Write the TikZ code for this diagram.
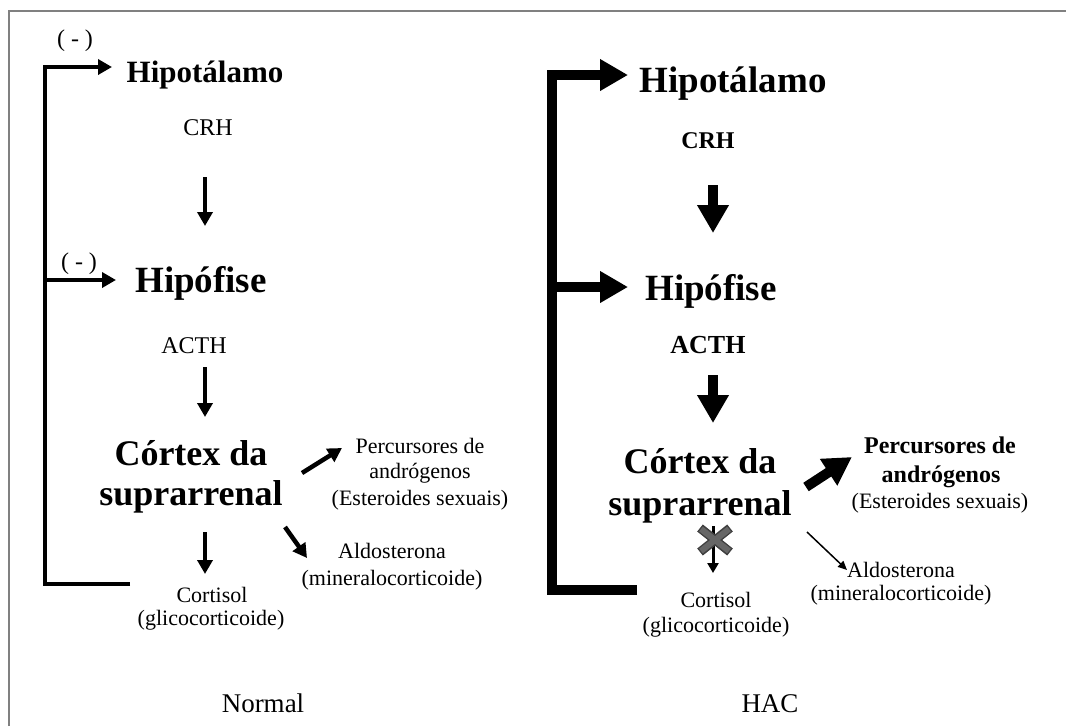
\documentclass[tikz,border=0pt]{standalone}
\usepackage{fontspec}
\setmainfont{Liberation Serif}
\usepackage{tikz}
\usetikzlibrary{arrows.meta, positioning}

\begin{document}
\begin{tikzpicture}[x=1pt, y=-1pt,
		orgao/.style={font=\bfseries\fontsize{#1}{#1}\selectfont, anchor=base, inner sep=0pt},
		texto/.style={font=\fontsize{#1}{#1}\selectfont, anchor=base, inner sep=0pt},
		seta/.style={line width=4.5pt, -{Triangle[length=14pt, width=15pt]}},
		setagrossa/.style={line width=10pt, -{Triangle[length=28pt, width=30pt]}},
		setafina/.style={line width=1.5pt, -{Triangle[length=9pt, width=8pt]}},
		setamini/.style={line width=3pt, -{Triangle[length=10pt, width=11pt]}}]
	\useasboundingbox (0,0) rectangle (1066,726);
	
	% Moldura
	\draw[gray, line width=2pt] (9,726) -- (9,11) -- (1066,11);
	
	% Normal
	\node[texto=24, anchor=center] (menosA) at (75,41) {( - )};
	\node[texto=24, anchor=center] (menosB) at (79,264) {( - )};
	\node[orgao=31] (hipotN) at (205,82) {Hipotálamo};
	\node[texto=24] (crhN) at (208,135) {CRH};
	\node[orgao=37] (hipofN) at (201,292) {Hipófise};
	\node[texto=24] (acthN) at (194,353) {ACTH};
	\node[orgao=36] (cortexN) at (191,465) {Córtex da};
	\node[orgao=36] (supraN) at (191,505) {suprarrenal};
	\node[texto=22] (percN) at (420,453) {Percursores de};
	\node[texto=22] (androN) at (420,478) {andrógenos};
	\node[texto=22] (esterN) at (420,505) {(Esteroides sexuais)};
	\node[texto=22] (aldoN) at (392,558) {Aldosterona};
	\node[texto=22] (mineN) at (392,585) {(mineralocorticoide)};
	\node[texto=22] (cortisN) at (212,602) {Cortisol};
	\node[texto=22] (glicoN) at (211,625) {(glicocorticoide)};
	\node[texto=27] (normal) at (263,712) {Normal};
	
	\coordinate (n1) at (205,177); \coordinate (n2) at (205,226);
	\coordinate (n3) at (205,367); \coordinate (n4) at (205,417);
	\coordinate (n5) at (302,473); \coordinate (n6) at (342,448);
	\coordinate (n7) at (285,527); \coordinate (n8) at (307,558);
	\coordinate (n9) at (205,532); \coordinate (n10) at (205,574);
	\coordinate (fbN) at (130,584); \coordinate (fbN1) at (112,67);
	\coordinate (ramoN) at (45,280); \coordinate (fbN2) at (116,280);
	
	\draw[seta] (n1) -- (n2);
	\draw[seta] (n3) -- (n4);
	\draw[seta] (n5) -- (n6);
	\draw[seta] (n7) -- (n8);
	\draw[seta] (n9) -- (n10);
	\draw[seta, line join=miter] (fbN) -- (45,584) -- (45,67) -- (fbN1);
	\draw[seta] (ramoN) -- (fbN2);
	
	% HAC
	\node[orgao=37] (hipotH) at (733,92) {Hipotálamo};
	\node[orgao=24] (crhH) at (708,148) {CRH};
	\node[orgao=37] (hipofH) at (711,300) {Hipófise};
	\node[orgao=26] (acthH) at (708,353) {ACTH};
	\node[orgao=36] (cortexH) at (700,473) {Córtex da};
	\node[orgao=36] (supraH) at (700,515) {suprarrenal};
	\node[orgao=24] (percH) at (940,453) {Percursores de};
	\node[orgao=24] (androH) at (941,482) {andrógenos};
	\node[texto=22] (esterH) at (940,508) {(Esteroides sexuais)};
	\node[texto=22] (aldoH) at (901,577) {Aldosterona};
	\node[texto=22] (mineH) at (901,600) {(mineralocorticoide)};
	\node[texto=22] (cortisH) at (716,607) {Cortisol};
	\node[texto=22] (glicoH) at (716,632) {(glicocorticoide)};
	\node[texto=27] (hac) at (770,712) {HAC};
	
	\coordinate (h1) at (713,185); \coordinate (h2) at (713,233);
	\coordinate (h3) at (713,375); \coordinate (h4) at (713,423);
	\coordinate (h5) at (806,487); \coordinate (h6) at (852,457);
	\coordinate (h7) at (807,532); \coordinate (h8) at (847,570);
	\coordinate (h9) at (713,526); \coordinate (h10) at (713,573);
	\coordinate (fbH) at (637,590); \coordinate (fbH1) at (628,75);
	\coordinate (ramoH) at (552,287); \coordinate (fbH2) at (628,287);
	
	\draw[setagrossa] (h1) -- (h2);
	\draw[setagrossa] (h3) -- (h4);
	\draw[setagrossa] (h5) -- (h6);
	\draw[setafina] (h7) -- (h8);
	\draw[setamini] (h9) -- (h10);
	\draw[setagrossa, line join=miter] (fbH) -- (552,590) -- (552,75) -- (fbH1);
	\draw[setagrossa] (ramoH) -- (fbH2);
	
	% bloqueio
	\draw[gray!50!black, line width=9pt] (700,528) -- (730,552) (700,552) -- (730,528);
	\draw[gray!80!black, line width=6pt] (701,529) -- (729,551) (701,551) -- (729,529);
\end{tikzpicture}
\end{document}
